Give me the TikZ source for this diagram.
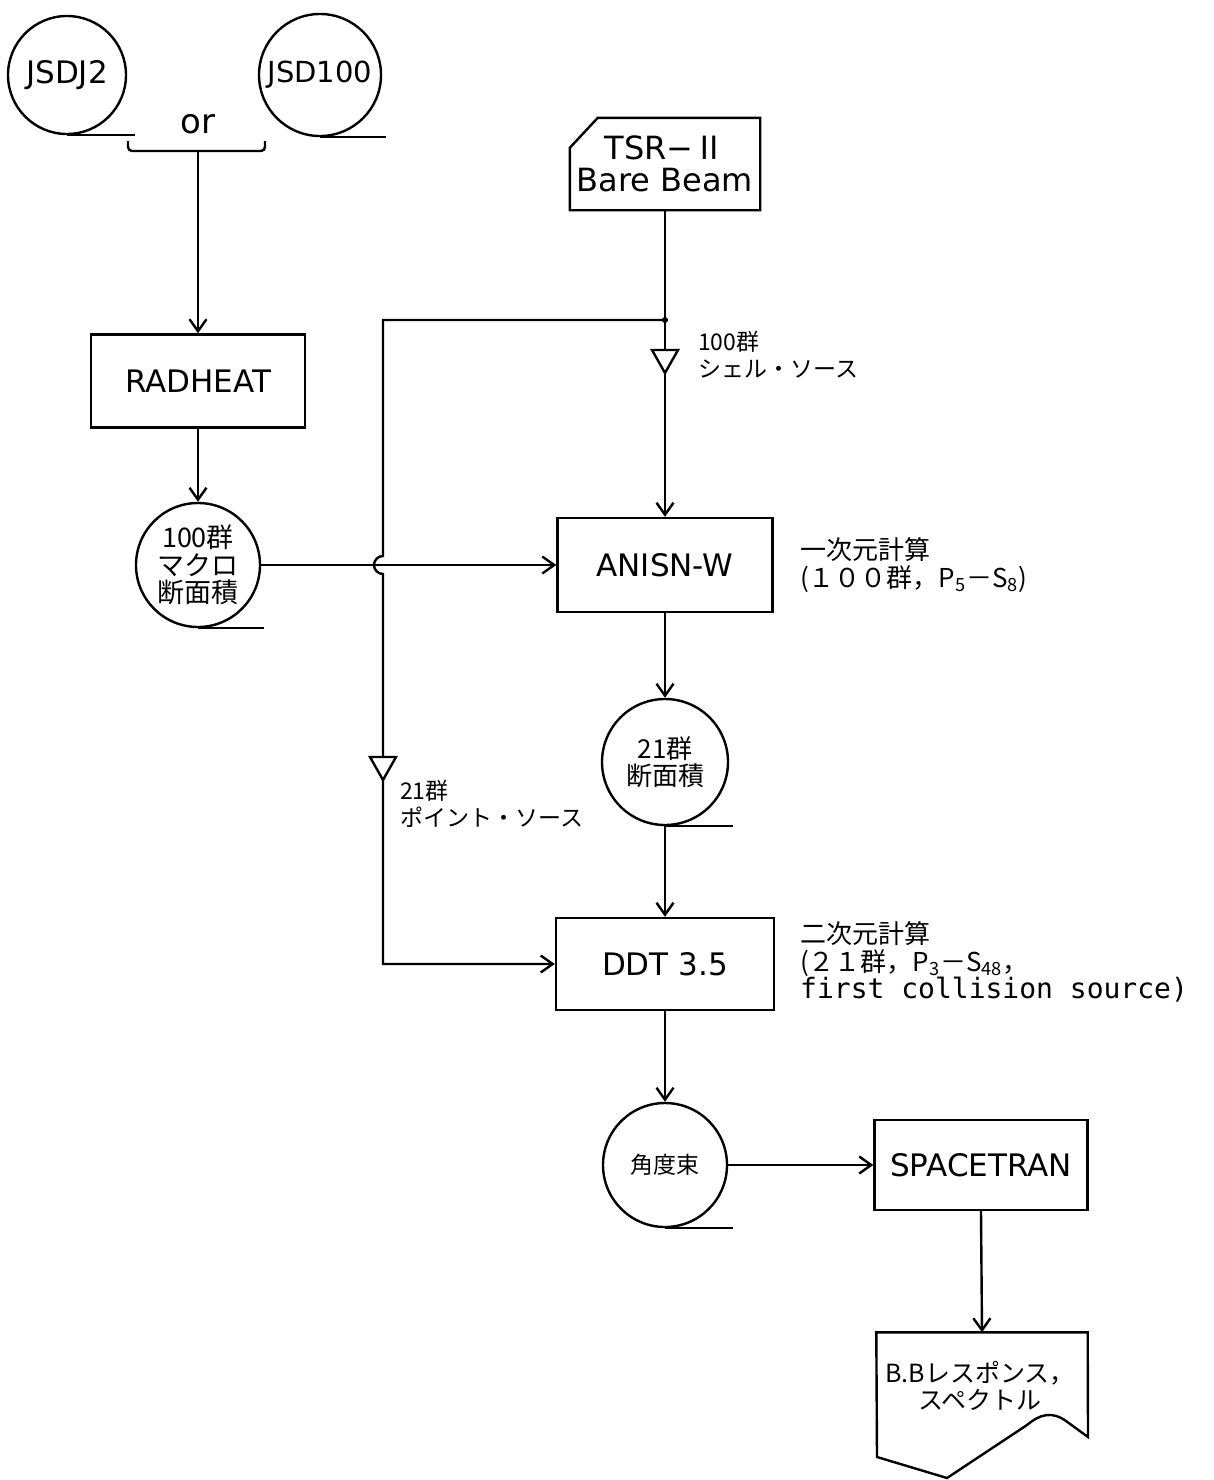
\documentclass[tikz,border=0pt]{standalone}
\usepackage{fontspec}
\setmainfont{Noto Sans CJK JP}
\newfontfamily\latfont{DejaVu Sans}
\newfontfamily\plotfont{DejaVu Sans Mono}
\usetikzlibrary{arrows.meta,calc,positioning}

\begin{document}
\begin{tikzpicture}[x=1pt,y=-1pt,
  >={Straight Barb[length=12pt,width=17pt,line width=2.4pt]},
  wire/.style={line width=2.4pt},
  flow/.style={->,line width=2.4pt},
  tape/.style={circle,draw,line width=2.4pt,minimum size=124pt,inner sep=0pt,
    align=center,font=\fontsize{27}{27.5}\selectfont},
  prog/.style={draw,line width=2.4pt,minimum width=214pt,minimum height=93pt,
    inner sep=0pt,font=\latfont\fontsize{31}{33}\selectfont},
  note/.style={anchor=west,align=left,inner sep=0pt,font=\fontsize{23}{27}\selectfont},
  calcnote/.style={anchor=west,align=left,inner sep=0pt,font=\fontsize{26}{27.5}\selectfont},
  srcmark/.pic={\draw[wire,fill=white] (-13,0) -- (13,0) -- (0,23) -- cycle;}]
  \useasboundingbox (0,0) rectangle (1213,1480);

  % libraries
  \node[tape,minimum size=118pt,font=\latfont\fontsize{31}{34}\selectfont] (jsdj) at (67,75) {JSDJ2};
  \node[tape,minimum size=122pt,font=\latfont\fontsize{29}{34}\selectfont] (jsdh) at (320,75) {JSD100};
  \draw[wire] (jsdj.south) -- ++(68,0);
  \draw[wire] (jsdh.south) -- ++(66,0);
  \node[font=\latfont\fontsize{34}{36}\selectfont,inner sep=0pt] (orword) at (198,124) {or};
  \draw[wire,rounded corners=4] (128,141) -- (128,151) -- (265,151) -- (265,141);
  \coordinate (orjoin) at (198,151);

  % RADHEAT and macro cross sections
  \node[prog] (radheat) at (198,381) {RADHEAT};
  \node[tape] (macro) at (198,565) {100群\\マクロ\\断面積};
  \draw[wire] (macro.south) -- ++(66,0);
  \draw[flow] (orjoin) -- (radheat.north);
  \draw[flow] (radheat.south) -- (macro.north);

  % beam source card
  \node[minimum width=190pt,minimum height=92pt,inner sep=0pt,align=center,
    font=\latfont\fontsize{32}{32}\selectfont] (tsr) at (665,164) {TSR−{\normalfont Ⅱ}\\Bare Beam};
  \draw[wire] ($(tsr.north west)+(0,30)$) -- ($(tsr.north west)+(28,0)$)
    -- (tsr.north east) -- (tsr.south east) -- (tsr.south west) -- cycle;

  % ANISN-W
  \node[prog,minimum width=215pt,minimum height=94pt] (anisn) at (665,565) {ANISN-W};
  \node[calcnote] (dim1) at (800,565) {一次元計算\\(１００群，P\textsubscript{5}－S\textsubscript{8})};
  \draw[flow] (tsr.south) -- (anisn.north);
  \coordinate (split) at (665,320);
  \coordinate (bend) at (383,320);
  \coordinate (hop) at (bend |- macro.east);
  \fill (split) circle (3);
  \pic at (665,350) {srcmark};
  \node[note] (lab100) at (698,355) {100群\\シェル・ソース};
  \draw[flow] (macro.east) -- (anisn.west);

  % 21 group cross sections
  \node[tape,minimum size=126pt,font=\fontsize{26}{27}\selectfont] (xs21) at (665,762) {21群\\断面積};
  \draw[wire] (xs21.south) -- ++(68,0);
  \draw[flow] (anisn.south) -- (xs21.north);

  % DDT 3.5
  \node[prog,minimum width=218pt,minimum height=92pt] (ddt) at (665,964) {DDT 3.5};
  \node[calcnote] (dim2) at (800,962)
    {二次元計算\\(２１群，P\textsubscript{3}－S\textsubscript{48}，\\{\plotfont\fontsize{28}{27.5}\selectfont first collision source)}};
  \draw[flow] (xs21.south) -- (ddt.north);
  \draw[flow] (split) -- (bend) -- ([yshift=9pt]hop)
    arc[start angle=270,end angle=90,radius=9] -- (bend |- ddt.west) -- (ddt.west);
  \pic at (383,757) {srcmark};
  \node[note] (lab21) at (400,804) {21群\\ポイント・ソース};

  % angular flux and SPACETRAN
  \node[tape,font=\fontsize{23}{25}\selectfont] (angflux) at (665,1165) {角度束};
  \draw[wire] (angflux.south) -- ++(68,0);
  \draw[flow] (ddt.south) -- (angflux.north);
  \node[prog,minimum width=213pt,minimum height=90pt] (spacetran) at (981,1165) {SPACETRAN};
  \draw[flow] (angflux.east) -- (spacetran.west);

  % output document
  \node[minimum width=211pt,minimum height=145pt,inner sep=0pt] (docout) at (982,1405) {};
  \node[align=center,inner sep=0pt,font=\fontsize{25}{27}\selectfont] (doctext) at (980,1386)
    {B.Bレスポンス，\\スペクトル};
  \draw[wire] (docout.north west) -- (docout.north east) -- (1088,1437) -- (1066,1421)
    .. controls (1052,1411) and (1040,1414) .. (1027,1425) -- (947,1478) -- (877,1457) -- cycle;
  \draw[flow] (spacetran.south) -- (docout.north);
\end{tikzpicture}
\end{document}
